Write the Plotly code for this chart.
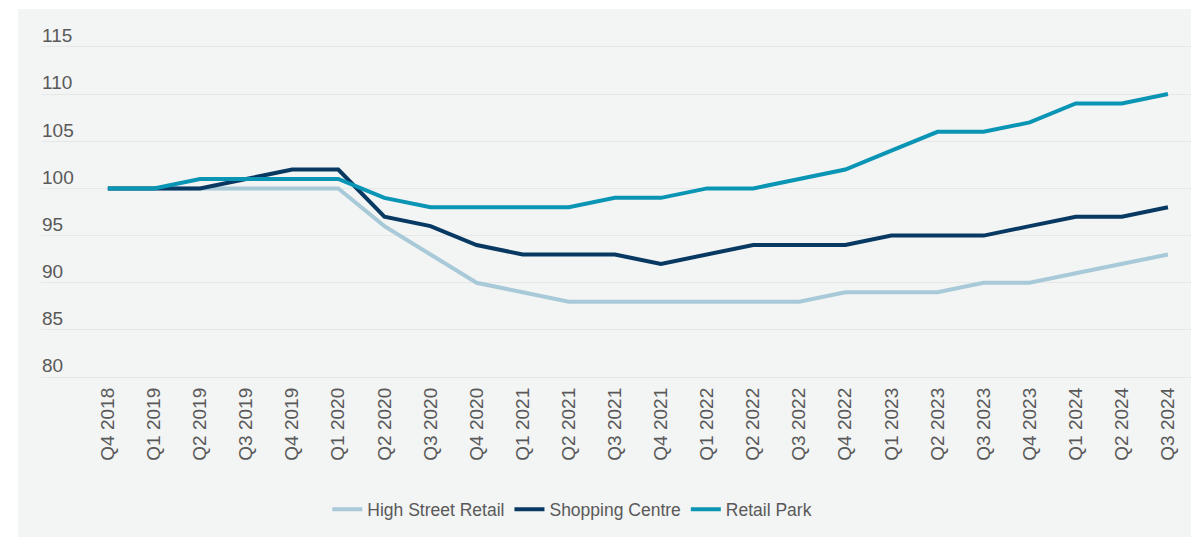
import plotly.graph_objects as go

# Quarterly index values (Q4 2018 = 100)
quarters = [
    "Q4 2018", "Q1 2019", "Q2 2019", "Q3 2019", "Q4 2019", "Q1 2020",
    "Q2 2020", "Q3 2020", "Q4 2020", "Q1 2021", "Q2 2021", "Q3 2021",
    "Q4 2021", "Q1 2022", "Q2 2022", "Q3 2022", "Q4 2022", "Q1 2023",
    "Q2 2023", "Q3 2023", "Q4 2023", "Q1 2024", "Q2 2024", "Q3 2024",
]
high_street = [100, 100, 100, 100, 100, 100, 96, 93, 90, 89, 88, 88,
               88, 88, 88, 88, 89, 89, 89, 90, 90, 91, 92, 93]
shopping_centre = [100, 100, 100, 101, 102, 102, 97, 96, 94, 93, 93, 93,
                   92, 93, 94, 94, 94, 95, 95, 95, 96, 97, 97, 98]
retail_park = [100, 100, 101, 101, 101, 101, 99, 98, 98, 98, 98, 99,
               99, 100, 100, 101, 102, 104, 106, 106, 107, 109, 109, 110]
y_ticks = [80, 85, 90, 95, 100, 105, 110, 115]

series = [
    ("High Street Retail", high_street, "#a8cad8"),
    ("Shopping Centre", shopping_centre, "#073962"),
    ("Retail Park", retail_park, "#0b95b5"),
]

fig = go.Figure()
for name, vals, color in series:
    fig.add_trace(go.Scatter(
        x=quarters, y=vals, name=name, mode="lines",
        line=dict(color=color, width=4),
    ))

text_color = "#595959"
font_family = "Liberation Sans, Arial, sans-serif"

# Light panel behind the chart (leaves a white strip on top and left)
fig.add_shape(
    type="rect", xref="paper", yref="paper",
    x0=-0.02, x1=1.05, y0=-0.5, y1=1.108,
    fillcolor="#f3f4f4", line=dict(width=0), layer="below",
)

fig.update_layout(
    width=1191, height=537,
    margin=dict(l=41, r=0, t=45, b=158),
    paper_bgcolor="white",
    plot_bgcolor="rgba(0,0,0,0)",
    font=dict(family=font_family, color=text_color),
    showlegend=True,
    legend=dict(
        orientation="h", x=0.462, xanchor="center", y=-0.39, yanchor="middle",
        font=dict(size=17.5, color=text_color),
        bgcolor="rgba(0,0,0,0)", itemwidth=30,
    ),
    xaxis=dict(
        type="category", range=[-1.45, 23.5],
        showgrid=False, zeroline=False, showline=False,
        tickangle=-90, tickfont=dict(size=19, color=text_color),
        ticks="", ticklabelstandoff=4,
    ),
    yaxis=dict(
        range=[79.8, 115.2], tickvals=y_ticks,
        showgrid=True, gridcolor="#e6e8e8", gridwidth=1,
        zeroline=False, showline=False, ticks="",
        ticklabelposition="inside top", ticklabeloverflow="allow",
        ticklabelshift=2, ticklabelstandoff=-2,
        tickfont=dict(size=19, color=text_color),
    ),
)

fig.write_html("out.html")
